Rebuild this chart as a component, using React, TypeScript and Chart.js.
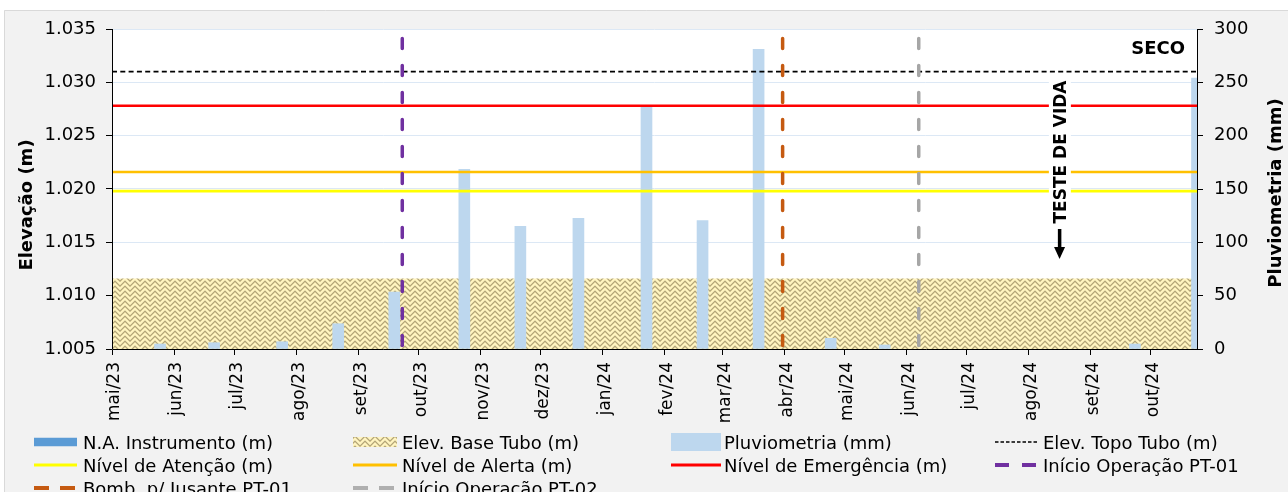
import React, { useEffect, useRef } from 'react';
import { Chart, registerables } from 'chart.js';

Chart.register(...registerables);

// ---------------- DATA ----------------
const X_START = '2023-05-01';
const X_END = '2024-10-24';

const MONTH_TICKS = [
  '2023-05-01', '2023-06-01', '2023-07-01', '2023-08-01', '2023-09-01', '2023-10-01',
  '2023-11-01', '2023-12-01', '2024-01-01', '2024-02-01', '2024-03-01', '2024-04-01',
  '2024-05-01', '2024-06-01', '2024-07-01', '2024-08-01', '2024-09-01', '2024-10-01',
];
const MONTH_LABELS = [
  'mai/23', 'jun/23', 'jul/23', 'ago/23', 'set/23', 'out/23', 'nov/23', 'dez/23', 'jan/24',
  'fev/24', 'mar/24', 'abr/24', 'mai/24', 'jun/24', 'jul/24', 'ago/24', 'set/24', 'out/24',
];

const RAIN_DATES = [
  '2023-05-25', '2023-06-21', '2023-07-25', '2023-08-22', '2023-09-19', '2023-10-24',
  '2023-11-21', '2023-12-20', '2024-01-23', '2024-02-20', '2024-03-19', '2024-04-24',
  '2024-05-21', '2024-09-23', '2024-10-24',
];
const RAIN_MM = [4.7, 5.9, 6.8, 23.7, 53.4, 168.5, 115, 122.5, 227, 120.3, 281, 10, 3.8, 4.7, 254];

// N.A. Instrumento: dry (SECO) during the whole period, no readings
const NA_DATES: string[] = [];
const NA_LEVELS: number[] = [];

const LABEL_NA = 'N.A. Instrumento (m)';
const LABEL_BASE = 'Elev. Base Tubo (m)';
const LABEL_RAIN = 'Pluviometria (mm)';
const LABEL_TOP = 'Elev. Topo Tubo (m)';
const LABEL_ATT = 'Nível de Atenção (m)';
const LABEL_ALERT = 'Nível de Alerta (m)';
const LABEL_EMERG = 'Nível de Emergência (m)';

const ELEV_BASE = 1.0116;
const ELEV_TOP = 1.031;
const LEVEL_ATT = 1.0198;
const LEVEL_ALERT = 1.0216;
const LEVEL_EMERG = 1.0278;

const EVENT_LABELS = ['Início Operação PT-01', 'Bomb. p/ Jusante PT-01', 'Início Operação PT-02'];
const EVENT_DATES = ['2023-09-23', '2024-03-31', '2024-06-07'];
const EVENT_TOP = 1.0341;

const LEFT_MIN = 1.005;
const LEFT_MAX = 1.035;
const LEFT_STEP = 0.005;
const RIGHT_MIN = 0;
const RIGHT_MAX = 300;
const RIGHT_STEP = 50;

const TITLE_LEFT = 'Elevação (m)';
const TITLE_RIGHT = 'Pluviometria (mm)';
const NOTE_DRY = 'SECO';
const NOTE_TEST = 'TESTE DE VIDA';
const NOTE_TEST_DATE = '2024-08-16';

// ---------------- STYLE ----------------
const FONT = "'DejaVu Sans', 'Liberation Sans', Arial, sans-serif";
const C_NA = '#5B9BD5';
const C_RAIN = '#BDD7EE';
const C_TOP = '#000000';
const C_ATT = '#FFFF00';
const C_ALERT = '#FFC000';
const C_EMERG = '#FF0000';
const C_EVENTS = ['#7030A0', '#C55A11', '#A6A6A6'];
const C_GRID = '#DCE8F5';

const DAY_MS = 86400000;
function dayOf(s: string): number {
  const p = s.split('-').map(Number);
  const b = X_START.split('-').map(Number);
  return Math.round((Date.UTC(p[0], p[1] - 1, p[2]) - Date.UTC(b[0], b[1] - 1, b[2])) / DAY_MS);
}

function makeWeave(ctx: CanvasRenderingContext2D): CanvasPattern | string {
  const N = 10;
  const H = N / 2;
  const t = document.createElement('canvas');
  t.width = N;
  t.height = N;
  const g = t.getContext('2d');
  if (!g) return '#E6DAA8';
  for (let y = 0; y < N; y++) {
    for (let x = 0; x < N; x++) {
      const k = x < H ? (x + y) % H : (N - 1 - x + y) % H;
      g.fillStyle = k === 0 ? '#B4A67C' : k === 1 ? '#D6C894' : k === 4 ? '#EDE2AE' : '#FFF4C0';
      g.fillRect(x, y, 1, 1);
    }
  }
  return ctx.createPattern(t, 'repeat') || '#E6DAA8';
}

export default function App() {
  const ref = useRef<HTMLCanvasElement>(null);

  useEffect(() => {
    const canvas = ref.current;
    if (!canvas) return;
    const ctx0 = canvas.getContext('2d');
    if (!ctx0) return;
    Chart.defaults.font.family = FONT;
    Chart.defaults.color = '#000';

    const weave = makeWeave(ctx0);
    const END = dayOf(X_END);

    const hLine = (label: string, value: number, color: string, width: number, dash: number[] = []) => ({
      type: 'line' as const,
      label,
      data: [{ x: 0, y: value }, { x: END, y: value }],
      borderColor: color,
      borderWidth: width,
      borderDash: dash,
      pointRadius: 0,
      fill: false,
      tension: 0,
      yAxisID: 'y',
      order: 2,
    });

    const vLine = (i: number) => ({
      type: 'line' as const,
      label: EVENT_LABELS[i],
      data: [{ x: dayOf(EVENT_DATES[i]), y: EVENT_TOP }, { x: dayOf(EVENT_DATES[i]), y: LEFT_MIN }],
      borderColor: C_EVENTS[i],
      borderWidth: 3.5,
      borderDash: [10, 17],
      borderCapStyle: 'round' as const,
      pointRadius: 0,
      fill: false,
      yAxisID: 'y',
      order: 1,
    });

    const datasets: any[] = [
      {
        type: 'line',
        label: LABEL_BASE,
        data: [{ x: 0, y: ELEV_BASE }, { x: END, y: ELEV_BASE }],
        borderColor: 'rgba(0,0,0,0)',
        borderWidth: 1,
        backgroundColor: weave,
        fill: 'start',
        pointRadius: 0,
        yAxisID: 'y',
        order: 10,
      },
      {
        type: 'bar',
        label: LABEL_NA,
        data: NA_DATES.map((d, i) => ({ x: dayOf(d), y: NA_LEVELS[i] })),
        backgroundColor: C_NA,
        barThickness: 11,
        grouped: false,
        yAxisID: 'y',
        order: 6,
      },
      {
        type: 'bar',
        label: LABEL_RAIN,
        data: RAIN_DATES.map((d, i) => ({ x: dayOf(d), y: RAIN_MM[i] })),
        backgroundColor: C_RAIN,
        borderWidth: 0,
        barThickness: 11,
        grouped: false,
        yAxisID: 'y2',
        order: 5,
      },
      hLine(LABEL_TOP, ELEV_TOP, C_TOP, 1.6, [5, 3.3]),
      hLine(LABEL_ATT, LEVEL_ATT, C_ATT, 2.6),
      hLine(LABEL_ALERT, LEVEL_ALERT, C_ALERT, 2.6),
      hLine(LABEL_EMERG, LEVEL_EMERG, C_EMERG, 2.6),
      vLine(0),
      vLine(1),
      vLine(2),
    ];

    type Sym = { label: string; kind: 'box' | 'pattern' | 'line'; color: string; h?: number; w?: number; dash?: number[] };
    const legendRows: Sym[][] = [
      [
        { label: LABEL_NA, kind: 'box', color: C_NA, h: 8.5 },
        { label: LABEL_BASE, kind: 'pattern', color: '', h: 10 },
        { label: LABEL_RAIN, kind: 'box', color: C_RAIN, h: 18 },
        { label: LABEL_TOP, kind: 'line', color: C_TOP, w: 1.5, dash: [3.5, 2] },
      ],
      [
        { label: LABEL_ATT, kind: 'line', color: C_ATT, w: 3 },
        { label: LABEL_ALERT, kind: 'line', color: C_ALERT, w: 3 },
        { label: LABEL_EMERG, kind: 'line', color: C_EMERG, w: 3 },
        { label: EVENT_LABELS[0], kind: 'line', color: C_EVENTS[0], w: 4, dash: [14, 13] },
      ],
      [
        { label: EVENT_LABELS[1], kind: 'line', color: C_EVENTS[1], w: 4, dash: [15, 11] },
        { label: EVENT_LABELS[2], kind: 'line', color: '#AFAFAF', w: 4, dash: [15, 11] },
      ],
    ];
    const LEG_COLS = [
      { sx: 34, ex: 77, tx: 83 },
      { sx: 353, ex: 397, tx: 402 },
      { sx: 671, ex: 721, tx: 724 },
      { sx: 995, ex: 1038, tx: 1043 },
    ];
    const LEG_ROW_Y = [442, 465, 488];

    const decor = {
      id: 'decor',
      beforeDraw(chart: any) {
        const { ctx, chartArea: a, width, height } = chart;
        ctx.save();
        ctx.fillStyle = '#FFFFFF';
        ctx.fillRect(0, 0, width, height);
        ctx.fillStyle = '#F2F2F2';
        ctx.fillRect(4, 10, width - 4, height - 10);
        ctx.strokeStyle = '#D9D9D9';
        ctx.lineWidth = 1;
        ctx.beginPath();
        ctx.moveTo(4.5, height);
        ctx.lineTo(4.5, 10.5);
        ctx.lineTo(width, 10.5);
        ctx.stroke();
        ctx.fillStyle = '#FFFFFF';
        ctx.fillRect(a.left, a.top, a.right - a.left, a.bottom - a.top);
        ctx.restore();
      },
      afterDatasetsDraw(chart: any) {
        const { ctx, chartArea: a, scales } = chart;
        ctx.save();
        // axis lines
        ctx.strokeStyle = '#000';
        ctx.lineWidth = 1;
        ctx.beginPath();
        ctx.moveTo(Math.round(a.left) + 0.5, a.top);
        ctx.lineTo(Math.round(a.left) + 0.5, Math.round(a.bottom) + 0.5);
        ctx.lineTo(Math.round(a.right) + 0.5, Math.round(a.bottom) + 0.5);
        ctx.moveTo(Math.round(a.right) + 0.5, a.top);
        ctx.lineTo(Math.round(a.right) + 0.5, Math.round(a.bottom) + 0.5);
        ctx.stroke();

        // TESTE DE VIDA
        const tx = scales.x.getPixelForValue(dayOf(NOTE_TEST_DATE));
        ctx.fillStyle = '#FFFFFF';
        ctx.fillRect(tx - 10, 80, 22, 146);
        ctx.fillStyle = '#000';
        ctx.font = `bold 17px ${FONT}`;
        ctx.textAlign = 'center';
        ctx.textBaseline = 'alphabetic';
        ctx.save();
        ctx.translate(tx + 1, 152);
        ctx.rotate(-Math.PI / 2);
        ctx.fillText(NOTE_TEST, 0, 6.2);
        ctx.restore();
        // arrow
        ctx.fillRect(tx - 1, 229, 3.5, 19);
        ctx.beginPath();
        ctx.moveTo(tx - 4.8, 247);
        ctx.lineTo(tx + 6.2, 247);
        ctx.lineTo(tx + 0.7, 259);
        ctx.closePath();
        ctx.fill();

        // SECO
        ctx.font = `bold 18px ${FONT}`;
        ctx.textAlign = 'right';
        ctx.fillText(NOTE_DRY, a.right - 12, 54);
        ctx.restore();
      },
      afterDraw(chart: any) {
        const { ctx } = chart;
        ctx.save();
        // axis titles
        ctx.fillStyle = '#000';
        ctx.font = `bold 18px ${FONT}`;
        ctx.textAlign = 'center';
        ctx.textBaseline = 'alphabetic';
        ctx.save();
        ctx.translate(25, 205);
        ctx.rotate(-Math.PI / 2);
        ctx.fillText(TITLE_LEFT, 0, 6.5);
        ctx.restore();
        ctx.save();
        ctx.translate(1274, 193);
        ctx.rotate(-Math.PI / 2);
        ctx.fillText(TITLE_RIGHT, 0, 6.5);
        ctx.restore();

        // legend
        ctx.font = `18px ${FONT}`;
        ctx.textAlign = 'left';
        legendRows.forEach((row, r) => {
          const y = LEG_ROW_Y[r];
          row.forEach((s, c) => {
            const col = LEG_COLS[c];
            if (s.kind === 'box' || s.kind === 'pattern') {
              const h = s.h || 10;
              ctx.fillStyle = s.kind === 'pattern' ? weave : s.color;
              ctx.fillRect(col.sx, y - h / 2, col.ex - col.sx, h);
            } else {
              ctx.strokeStyle = s.color;
              ctx.lineWidth = s.w || 2;
              ctx.setLineDash(s.dash || []);
              ctx.lineCap = 'butt';
              ctx.beginPath();
              ctx.moveTo(col.sx, y);
              ctx.lineTo(col.ex, y);
              ctx.stroke();
              ctx.setLineDash([]);
            }
            ctx.fillStyle = '#000';
            ctx.fillText(s.label, col.tx, y + 6.6);
          });
        });
        ctx.restore();
      },
    };

    const chart = new Chart(ctx0, {
      type: 'bar',
      data: { datasets },
      options: {
        responsive: false,
        maintainAspectRatio: false,
        animation: false,
        devicePixelRatio: 1,
        layout: { padding: { top: 29, left: 0, right: 0, bottom: 0 } },
        plugins: {
          legend: { display: false },
          tooltip: { enabled: false },
          title: { display: false },
        },
        scales: {
          x: {
            type: 'linear',
            min: 0,
            max: END,
            offset: false,
            afterBuildTicks: (s: any) => {
              s.ticks = MONTH_TICKS.map((d) => ({ value: dayOf(d) }));
            },
            afterFit: (s: any) => {
              s.height = 143;
            },
            ticks: {
              autoSkip: false,
              minRotation: 90,
              maxRotation: 90,
              padding: 7,
              labelOffset: 3,
              color: '#000',
              font: { size: 17 },
              callback: (_v: any, i: number) => MONTH_LABELS[i],
            },
            grid: { offset: false, drawOnChartArea: false, drawTicks: true, tickLength: 6, tickColor: '#000', color: '#000' },
            border: { display: false },
          },
          y: {
            type: 'linear',
            position: 'left',
            min: LEFT_MIN,
            max: LEFT_MAX,
            afterFit: (s: any) => {
              s.width = 112;
            },
            ticks: {
              stepSize: LEFT_STEP,
              padding: 10,
              color: '#000',
              font: { size: 18 },
              callback: (v: any) => Number(v).toFixed(3),
            },
            grid: { color: C_GRID, tickColor: '#000', tickLength: 6 },
            border: { display: false },
          },
          y2: {
            type: 'linear',
            position: 'right',
            min: RIGHT_MIN,
            max: RIGHT_MAX,
            afterFit: (s: any) => {
              s.width = 91;
            },
            ticks: { stepSize: RIGHT_STEP, padding: 11, color: '#000', font: { size: 18 } },
            grid: { drawOnChartArea: false, tickColor: '#000', tickLength: 6 },
            border: { display: false },
          },
        },
      } as any,
      plugins: [decor],
    } as any);

    return () => chart.destroy();
  }, []);

  return (
    <div style={{ position: 'fixed', left: 0, top: 0, width: 1288, height: 492 }}>
      <canvas ref={ref} width={1288} height={492} style={{ display: 'block', width: 1288, height: 492 }} />
    </div>
  );
}
